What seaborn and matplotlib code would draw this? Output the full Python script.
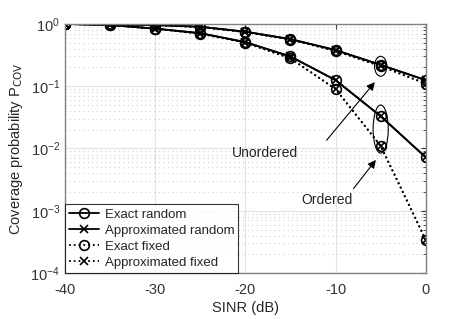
import pandas as pd
import seaborn as sns
import matplotlib.pyplot as plt
from matplotlib.patches import Ellipse

# valori
sinr = [-40, -35, -30, -25, -20, -15, -10, -5, 0]
unord_random = [1.0, 0.98, 0.96, 0.90, 0.75, 0.57, 0.38, 0.22, 0.125]
unord_fixed = [1.0, 0.98, 0.96, 0.89, 0.74, 0.56, 0.37, 0.21, 0.11]
ord_random = [1.0, 0.96, 0.84, 0.71, 0.51, 0.30, 0.125, 0.033, 0.0072]
ord_fixed = [1.0, 0.96, 0.84, 0.70, 0.50, 0.28, 0.09, 0.011, 0.00034]

sns.set_style("white")
plt.rcParams['font.family'] = ['Liberation Sans', 'DejaVu Sans']
plt.rcParams['axes.unicode_minus'] = False

fig = plt.figure(figsize=(4.71, 3.19), dpi=100)
ax = fig.add_axes([0.138, 0.144, 0.766, 0.781])

series = [
    ("Exact random", "-", "o", 7, [unord_random, ord_random]),
    ("Approximated random", "-", "x", 5.5, [unord_random, ord_random]),
    ("Exact fixed", ":", "o", 7, [unord_fixed, ord_fixed]),
    ("Approximated fixed", ":", "x", 5.5, [unord_fixed, ord_fixed]),
]

for name, ls, mk, ms, curves in series:
    for i, vals in enumerate(curves):
        df = pd.DataFrame({"SINR": sinr, "P": vals})
        sns.lineplot(data=df, x="SINR", y="P", ax=ax, color="black",
                     linestyle=ls, linewidth=1.3, marker=mk, markersize=ms,
                     markerfacecolor="none", markeredgecolor="black",
                     markeredgewidth=1.2, label=name if i == 0 else None)

ax.set_yscale("log")
ax.set_xlim(-40, 0)
ax.set_ylim(1e-4, 1)
ax.set_xticks([-40, -30, -20, -10, 0])
ax.grid(True, which="major", color="#e2e2e2", linewidth=0.8)
ax.grid(True, which="minor", axis="y", color="#d0d0d0", linestyle=(0, (1, 3)), linewidth=0.8)
ax.tick_params(which="both", direction="in", labelsize=10.5, colors="#333333", top=True, right=True)
ax.tick_params(which="minor", length=2)
ax.tick_params(axis="x", pad=7)
for s in ax.spines.values():
    s.set_color("#808080")
    s.set_linewidth(1.0)

ax.set_xlabel("SINR (dB)", fontsize=10.5, color="#262626", labelpad=3)
ax.set_ylabel(r"Coverage probability P$_{\rm COV}$", fontsize=10.5, color="#262626")

leg = ax.legend(loc="lower left", fontsize=9.5, frameon=True, fancybox=False,
                borderpad=0.3, labelspacing=0.3, handlelength=2.3, handletextpad=0.4,
                borderaxespad=0)
leg.get_frame().set_edgecolor("black")
leg.get_frame().set_linewidth(0.8)

# ellissi attorno ai punti a -5 dB
ax.add_patch(Ellipse((0.875, 0.83), 0.034, 0.08, transform=ax.transAxes,
                     fill=False, edgecolor="black", linewidth=0.8))
ax.add_patch(Ellipse((0.875, 0.578), 0.042, 0.193, transform=ax.transAxes,
                     fill=False, edgecolor="black", linewidth=0.8))

ax.annotate("", xy=(-5.45, 0.126), xytext=(-11.2, 0.0125),
            arrowprops=dict(arrowstyle="-|>", color="black", lw=0.8, mutation_scale=12))
ax.text(-17.8, 0.0085, "Unordered", fontsize=10, ha="center", va="center")
ax.annotate("", xy=(-5.34, 0.0071), xytext=(-8.2, 0.0021),
            arrowprops=dict(arrowstyle="-|>", color="black", lw=0.8, mutation_scale=12))
ax.text(-10.9, 0.0015, "Ordered", fontsize=10, ha="center", va="center")

fig.savefig("out.png", dpi=100)
